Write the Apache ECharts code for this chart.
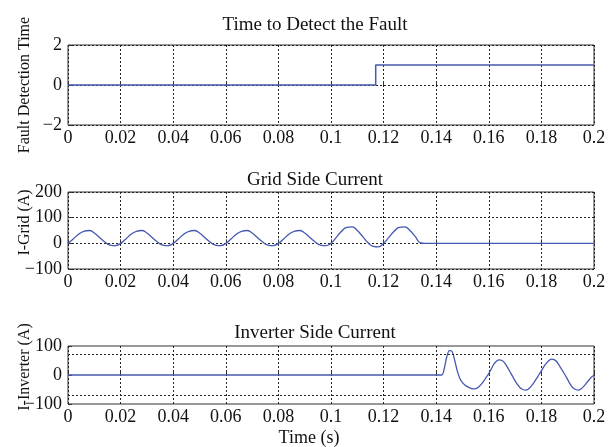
<!DOCTYPE html>
<html>
<head>
<meta charset="utf-8">
<script src="https://cdn.jsdelivr.net/npm/echarts@6/dist/echarts.min.js"></script>
<style>
html,body{margin:0;padding:0;background:#fff;}
#c{width:610px;height:447px;}
</style>
</head>
<body>
<div id="c"></div>
<script>
// ---- data ----
var xTicks = [0, 0.02, 0.04, 0.06, 0.08, 0.1, 0.12, 0.14, 0.16, 0.18, 0.2];
var titles = ['Time to Detect the Fault', 'Grid Side Current', 'Inverter Side Current'];
var yNames = ['Fault Detection Time', 'I-Grid (A)', 'I-Inverter (A)'];

// fault detection signal (step)
var faultT = [0, 0.117, 0.117, 0.2];
var faultV = [0, 0, 1, 1];

// grid side current, sampled every 2 ms
var gridT = [0,0.002,0.004,0.006,0.008,0.010,0.012,0.014,0.016,0.018,
             0.020,0.022,0.024,0.026,0.028,0.030,0.032,0.034,0.036,0.038,
             0.040,0.042,0.044,0.046,0.048,0.050,0.052,0.054,0.056,0.058,
             0.060,0.062,0.064,0.066,0.068,0.070,0.072,0.074,0.076,0.078,
             0.080,0.082,0.084,0.086,0.088,0.090,0.092,0.094,0.096,0.098,
             0.100,0.102,0.104,0.106,0.108,0.110,0.112,0.114,0.116,0.118,
             0.120,0.122,0.124,0.126,0.128,0.130,0.132,0.134,0.136,0.2];
var gridV = [0,17,35,47,50,40,23,5,-7,-9,
             0,17,35,47,50,40,23,5,-7,-9,
             0,17,35,47,50,40,23,5,-7,-9,
             0,17,35,47,50,40,23,5,-7,-9,
             0,17,35,47,50,40,23,5,-7,-9,
             0,23,47,62,64,50,27,3,-12,-14,
             0,23,47,62,64,50,27,2,0,0];

// inverter side current, sampled every 1 ms after the fault
var invT = [0,0.142,0.143,0.144,0.145,0.146,0.147,0.148,0.149,0.150,
            0.151,0.152,0.153,0.154,0.155,0.156,0.157,0.158,0.159,0.160,
            0.161,0.162,0.163,0.164,0.165,0.166,0.167,0.168,0.169,0.170,
            0.171,0.172,0.173,0.174,0.175,0.176,0.177,0.178,0.179,0.180,
            0.181,0.182,0.183,0.184,0.185,0.186,0.187,0.188,0.189,0.190,
            0.191,0.192,0.193,0.194,0.195,0.196,0.197,0.198,0.199,0.200];
var invV = [0,0,20,62,84,82,52,14,-12,-26,
            -35,-41,-45,-48,-47,-42,-33,-22,-8,5,
            22,38,48,52,50,42,28,12,-4,-20,
            -34,-45,-50,-52,-49,-40,-28,-14,0,14,
            30,42,51,55,52,44,30,15,0,-16,
            -32,-44,-50,-52,-48,-40,-30,-18,-8,0];

var yRanges = [[-2, 2, 2], [-100, 200, 100], [-100, 100, 100]];

// ---- chart ----
function pairs(t, v){ return t.map(function(x,i){ return [x, v[i]]; }); }
var FONT = 'Liberation Serif';
var lineColor = '#4658b0';
var gridTops = [45, 192, 346];
var gridHeights = [80, 77, 58];
var titleTops = [11, 166, 319];

var grids = [], xAxes = [], yAxes = [], titleArr = [];
for (var i = 0; i < 3; i++) {
  grids.push({left: 68, width: 526, top: gridTops[i], height: gridHeights[i],
    outerBoundsMode: 'none', containLabel: false,
    show: true, borderColor: '#333', borderWidth: 1, backgroundColor: '#fff'});
  titleArr.push({text: titles[i], left: 310, top: titleTops[i], textAlign: 'center',
    textStyle: {fontFamily: FONT, fontSize: 19, fontWeight: 'normal', color: '#111'}});
  xAxes.push({type: 'value', gridIndex: i, min: 0, max: 0.2, interval: 0.02,
    axisLine: {show: false}, axisTick: {show: true, inside: true, length: 4, lineStyle: {color: '#333'}},
    splitLine: {show: true, lineStyle: {color: '#222', type: [2, 2], width: 1}},
    axisLabel: {fontFamily: FONT, fontSize: 18, color: '#111', margin: 4,
      formatter: function(v){ return String(parseFloat(v.toFixed(2))); }},
    name: i === 2 ? 'Time (s)' : '', nameLocation: 'middle', nameGap: 25,
    nameMoveOverlap: false,
    nameTextStyle: {fontFamily: FONT, fontSize: 18, color: '#111', padding: [0, 44, 0, 0]}});
  var r = yRanges[i];
  yAxes.push({type: 'value', gridIndex: i, min: r[0], max: r[1], interval: r[2],
    axisLine: {show: false}, axisTick: {show: true, inside: true, length: 4, lineStyle: {color: '#333'}},
    splitLine: {show: i !== 2, lineStyle: {color: '#222', type: [2, 2], width: 1}},
    axisLabel: {fontFamily: FONT, fontSize: 18, color: '#111', margin: 6,
      formatter: function(v){ return v < 0 ? '\u2212' + Math.abs(v) : String(v); }},
    name: yNames[i], nameLocation: 'middle', nameGap: 35, nameMoveOverlap: false,
    nameTextStyle: {fontFamily: FONT, fontSize: 16, color: '#111',
      padding: i === 0 ? [0, 0, 0, 0] : [0, 0, 0, 16]}});
}

var series = [
  {type: 'line', xAxisIndex: 0, yAxisIndex: 0, data: pairs(faultT, faultV), showSymbol: false,
   lineStyle: {color: lineColor, width: 1.5}, z: 3},
  {type: 'line', xAxisIndex: 1, yAxisIndex: 1, data: pairs(gridT, gridV),
   showSymbol: false, smooth: 0.5, lineStyle: {color: lineColor, width: 1.3}, z: 3},
  {type: 'line', xAxisIndex: 2, yAxisIndex: 2, data: pairs(invT, invV), showSymbol: false,
   smooth: 0.3, lineStyle: {color: lineColor, width: 1.3}, z: 3,
   markLine: {silent: true, symbol: 'none', label: {show: false},
     lineStyle: {color: '#222', type: [2, 2], width: 1},
     data: [{yAxis: 70}, {yAxis: -70}]}}
];

var chart = echarts.init(document.getElementById('c'), null, {renderer: 'canvas'});
chart.setOption({
  animation: false,
  backgroundColor: '#fff',
  title: titleArr,
  grid: grids,
  xAxis: xAxes,
  yAxis: yAxes,
  series: series
});
</script>
</body>
</html>
